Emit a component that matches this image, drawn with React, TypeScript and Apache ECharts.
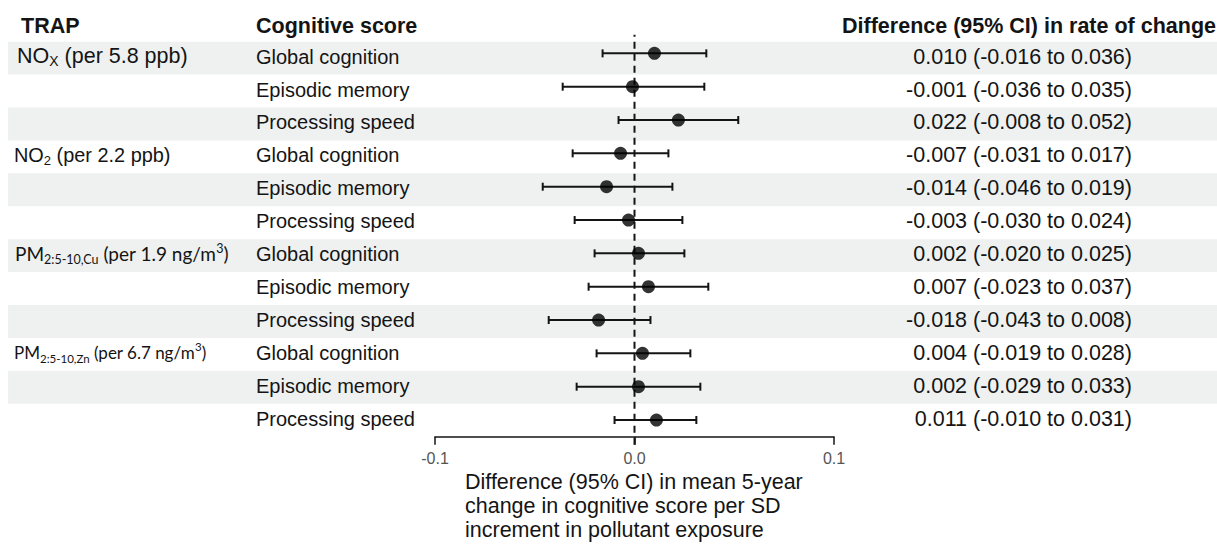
import React, { useEffect, useRef } from "react";
import * as echarts from "echarts";

// ---- data ----
const trapNames = ["NO", "NO", "PM", "PM"];
const trapSubs = ["X", "2", "2:5-10,Cu", "2:5-10,Zn"];
const trapUnits = [" (per 5.8 ppb)", " (per 2.2 ppb)", " (per 1.9 ng/m", " (per 6.7 ng/m"];
const trapSups = ["", "", "3", "3"];
const trapTails = ["", "", ")", ")"];
const scoreNames = ["Global cognition", "Episodic memory", "Processing speed"];
const estimates = [0.010, -0.001, 0.022, -0.007, -0.014, -0.003, 0.002, 0.007, -0.018, 0.004, 0.002, 0.011];
const lowerCI = [-0.016, -0.036, -0.008, -0.031, -0.046, -0.030, -0.020, -0.023, -0.043, -0.019, -0.029, -0.010];
const upperCI = [0.036, 0.035, 0.052, 0.017, 0.019, 0.024, 0.025, 0.037, 0.008, 0.028, 0.033, 0.031];
const nullEffect = 0;
const headers = ["TRAP", "Cognitive score", "Difference (95% CI) in rate of change"];
const xAxisTitle = "Difference (95% CI) in mean 5-year\nchange in cognitive score per SD\nincrement in pollutant exposure";

const rowIds = estimates.map((_, i) => String(i));
const fmt = (v: number) => v.toFixed(3);
const valueTexts = estimates.map((e, i) => `${fmt(e)} (${fmt(lowerCI[i])} to ${fmt(upperCI[i])})`);

const SANS = "Liberation Sans";
const INK = "#141414";

export default function App() {
  const ref = useRef<HTMLDivElement>(null);
  useEffect(() => {
    document.body.style.margin = "0";
    const chart = echarts.init(ref.current!, null, { renderer: "svg" });
    const rich: any = {
      m0: { fontFamily: SANS, fontSize: 21.5, color: INK, lineHeight: 24, padding: [0, 0, 0, 3] },
      n0: { fontFamily: SANS, fontSize: 21.5, color: INK, lineHeight: 24 },
      s0: { fontFamily: SANS, fontSize: 14, color: INK, lineHeight: 14, verticalAlign: "bottom" },
      m1: { fontFamily: SANS, fontSize: 19.9, color: INK, lineHeight: 24 },
      n1: { fontFamily: SANS, fontSize: 19.9, color: INK, lineHeight: 24 },
      s1: { fontFamily: SANS, fontSize: 13, color: INK, lineHeight: 13, verticalAlign: "bottom" },
      m2: { fontFamily: "Lato", fontSize: 19, color: INK, lineHeight: 24, padding: [0, 0, 0, 1] },
      n2: { fontFamily: "Lato", fontSize: 19, color: INK, lineHeight: 24 },
      s2: { fontFamily: "Lato", fontSize: 12.5, color: INK, lineHeight: 12, verticalAlign: "bottom" },
      p2: { fontFamily: "Lato", fontSize: 12.5, color: INK, lineHeight: 12, verticalAlign: "top" },
      m3: { fontFamily: "Lato", fontSize: 17, color: INK, lineHeight: 24 },
      n3: { fontFamily: "Lato", fontSize: 17, color: INK, lineHeight: 24 },
      s3: { fontFamily: "Lato", fontSize: 11.5, color: INK, lineHeight: 11, verticalAlign: "bottom" },
      p3: { fontFamily: "Lato", fontSize: 11.5, color: INK, lineHeight: 11, verticalAlign: "top" },
    };
    const colRich: any = {
      c: { fontFamily: SANS, fontSize: 20, color: INK, lineHeight: 24, width: 500, align: "left" },
      v: { fontFamily: SANS, fontSize: 21.5, color: INK, lineHeight: 24, width: 376, align: "right" },
    };
    const hiddenAxis = {
      axisLine: { show: false },
      axisTick: { show: false },
      splitLine: { show: false },
    };
    const option: any = {
      animation: false,
      textStyle: { fontFamily: SANS },
      grid: [
        { left: 8, right: 0, top: 41.7, height: 395, outerBoundsMode: "none", containLabel: false },
        { left: 435, width: 399, top: 36.7, height: 400, outerBoundsMode: "none", containLabel: false },
      ],
      xAxis: [
        { gridIndex: 0, type: "value", min: 0, max: 1, show: false },
        {
          gridIndex: 1,
          type: "value",
          position: "bottom",
          min: -0.1,
          max: 0.1,
          interval: 0.1,
          offset: 3,
          splitLine: { show: false },
          axisLine: { lineStyle: { color: INK, width: 1.5 } },
          axisTick: { length: 8, lineStyle: { color: INK, width: 1.5 } },
          axisLabel: {
            formatter: (v: number) => v.toFixed(1),
            color: "#555",
            fontSize: 16,
            fontFamily: SANS,
            margin: 11,
            showMinLabel: true,
            showMaxLabel: true,
          },
        },
      ],
      yAxis: [
        {
          gridIndex: 0,
          type: "category",
          position: "left",
          data: rowIds,
          inverse: true,
          ...hiddenAxis,
          splitArea: { show: true, areaStyle: { color: ["#eef1f0", "rgba(255,255,255,0)"] } },
          axisLabel: {
            inside: true,
            margin: 6,
            align: "left",
            interval: 0,
            padding: [0, 0, 4, 0],
            rich,
            formatter: (_v: string, idx: number) => {
              if (idx % 3 !== 0) return "";
              const k = idx / 3;
              let s = `{m${k}|${trapNames[k]}}{s${k}|${trapSubs[k]}}{n${k}|${trapUnits[k]}}`;
              if (trapSups[k]) s += `{p${k}|${trapSups[k]}}{n${k}|${trapTails[k]}}`;
              return s;
            },
          },
        },
        {
          gridIndex: 0,
          type: "category",
          position: "right",
          data: rowIds,
          inverse: true,
          ...hiddenAxis,
          axisLabel: {
            inside: true,
            margin: 961,
            align: "left",
            interval: 0,
            padding: [0, 0, 3, 0],
            rich: colRich,
            formatter: (_v: string, idx: number) => `{c|${scoreNames[idx % 3]}}{v|${valueTexts[idx]}}`,
          },
        },
        {
          gridIndex: 1,
          type: "category",
          position: "right",
          data: rowIds,
          inverse: true,
          ...hiddenAxis,
          axisLabel: { show: false },
        },
        {
          gridIndex: 1,
          type: "value",
          position: "left",
          min: 0,
          max: 1,
          show: false,
        },
      ],
      series: [
        {
          type: "line",
          xAxisIndex: 1,
          yAxisIndex: 3,
          z: 1,
          clip: false,
          symbol: "none",
          silent: true,
          lineStyle: { color: INK, width: 2, type: [7, 5] },
          data: [
            [nullEffect, -0.02],
            [nullEffect, 1.005],
          ],
        },
        {
          type: "custom",
          xAxisIndex: 1,
          yAxisIndex: 2,
          z: 2,
          encode: { x: [1, 2], y: 0 },
          data: estimates.map((_, i) => [i, lowerCI[i], upperCI[i]]),
          renderItem: (_p: any, api: any) => {
            const yi = api.value(0);
            const a = api.coord([api.value(1), yi]);
            const b = api.coord([api.value(2), yi]);
            const h = 4;
            const style = { stroke: INK, lineWidth: 2 };
            return {
              type: "group",
              children: [
                { type: "line", shape: { x1: a[0], y1: a[1], x2: b[0], y2: b[1] }, style },
                { type: "line", shape: { x1: a[0], y1: a[1] - h, x2: a[0], y2: a[1] + h }, style },
                { type: "line", shape: { x1: b[0], y1: b[1] - h, x2: b[0], y2: b[1] + h }, style },
              ],
            };
          },
        },
        {
          type: "scatter",
          xAxisIndex: 1,
          yAxisIndex: 2,
          z: 3,
          symbol: "circle",
          symbolSize: 13,
          itemStyle: { color: "#000" },
          data: estimates.map((e, i) => [e, i]),
        },
      ],
      graphic: [
        { type: "text", left: 21, top: 15, style: { text: headers[0], font: `bold 21.5px ${SANS}`, fill: INK } },
        { type: "text", left: 256, top: 15, style: { text: headers[1], font: `bold 21.5px ${SANS}`, fill: INK } },
        { type: "text", right: 1, top: 15, style: { text: headers[2], font: `bold 21.5px ${SANS}`, fill: INK } },
        {
          type: "text",
          left: 465,
          top: 470,
          style: { text: xAxisTitle, font: `21.5px ${SANS}`, lineHeight: 24, fill: INK },
        },
      ],
    };
    chart.setOption(option);
    return () => chart.dispose();
  }, []);
  return <div ref={ref} style={{ width: 1217, height: 552 }} />;
}
